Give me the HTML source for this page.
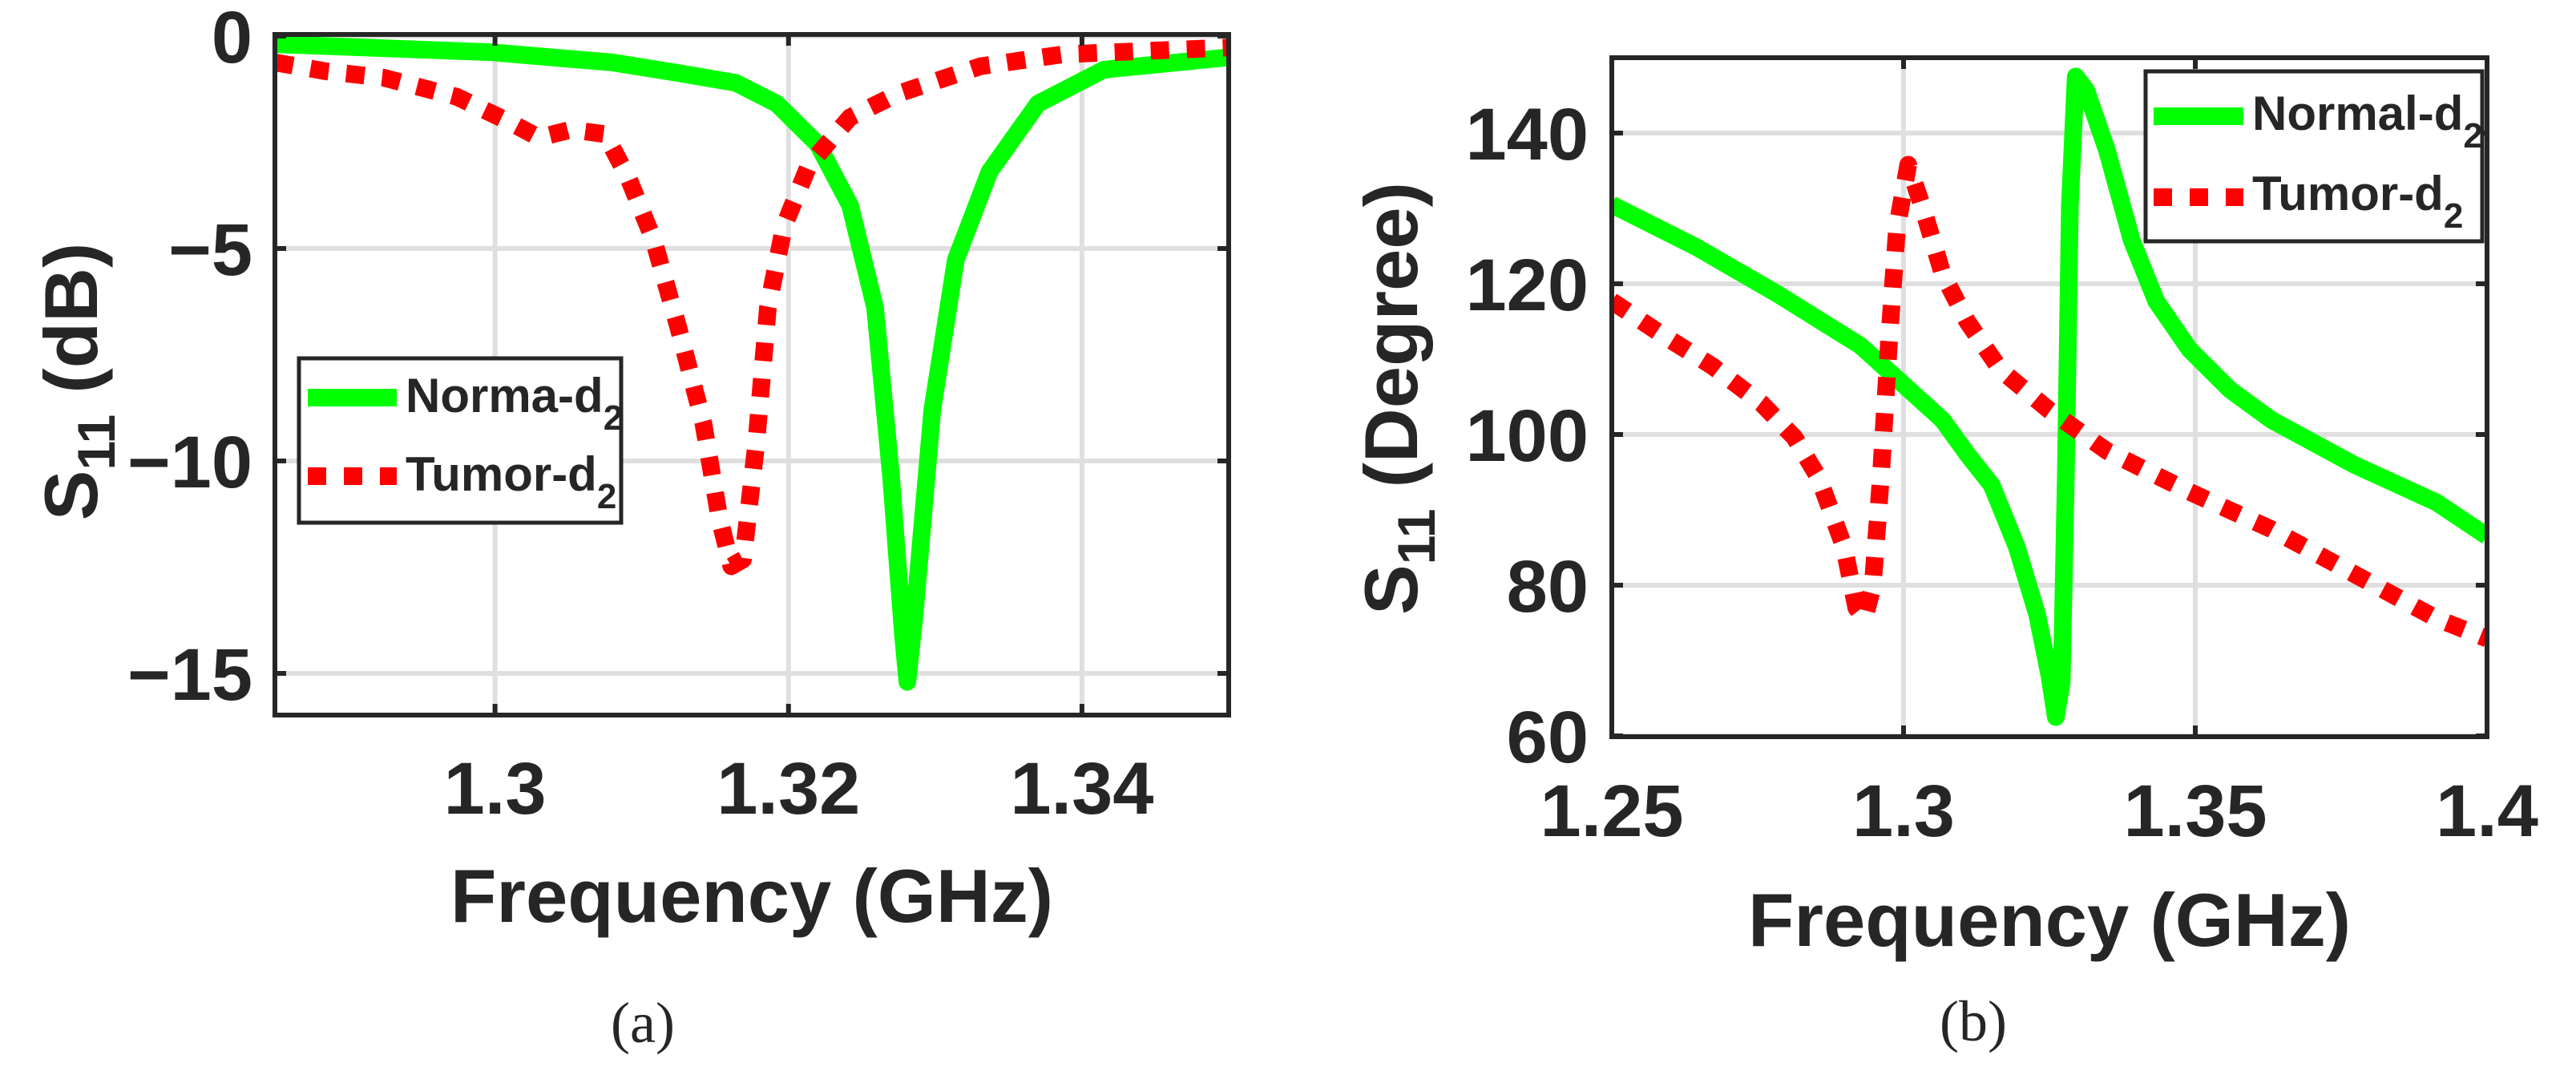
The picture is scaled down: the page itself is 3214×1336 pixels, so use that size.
<!DOCTYPE html>
<html><head><meta charset="utf-8">
<style>
html,body{margin:0;padding:0;background:#fff;}
svg{display:block;}
text{font-family:"Liberation Sans",Arial,sans-serif;font-weight:bold;fill:#262626;}
.cap{font-family:"Liberation Serif",serif;font-weight:normal;}
</style></head>
<body>
<svg id="fig" width="3214" height="1336" viewBox="0 0 3214 1336" xmlns="http://www.w3.org/2000/svg">
<defs>
<clipPath id="clipA"><rect x="343" y="43" width="1190" height="849"/></clipPath>
<clipPath id="clipB"><rect x="2011" y="72" width="1092" height="847"/></clipPath>
</defs>
<g id="gridA"></g>
<g id="gridB"></g>
<g id="linesA" clip-path="url(#clipA)"></g>
<g id="linesB" clip-path="url(#clipB)"></g>
<g id="framesA"></g>
<g id="framesB"></g>
<g id="labels">
<text x="938" y="1150" font-size="94" text-anchor="middle">Frequency (GHz)</text>
<text transform="translate(121,476) rotate(-90)" font-size="94" text-anchor="middle">S<tspan font-size="66" dy="22">11</tspan><tspan dy="-22"> (dB)</tspan></text>
<text x="2557" y="1180" font-size="94" text-anchor="middle">Frequency (GHz)</text>
<text transform="translate(1768,497) rotate(-90)" font-size="94" text-anchor="middle">S<tspan font-size="66" dy="22">11</tspan><tspan dy="-22"> (Degree)</tspan></text>
<text class="cap" x="802" y="1300" font-size="72" text-anchor="middle">(a)</text>
<text class="cap" x="2462" y="1298" font-size="72" text-anchor="middle">(b)</text>
</g>
<g>
<rect x="373" y="447" width="402" height="205" fill="#fff" stroke="#262626" stroke-width="5"/>
<line x1="384" y1="496" x2="495" y2="496" stroke="#00ff00" stroke-width="22"/>
<text x="506" y="514" font-size="60" fill="#000">Norma-d<tspan font-size="44" dy="22">2</tspan></text>
<line x1="384" y1="594" x2="495" y2="594" stroke="#ff0000" stroke-width="22" stroke-dasharray="23 22"/>
<text x="506" y="612" font-size="60" fill="#000">Tumor-d<tspan font-size="44" dy="22">2</tspan></text>
</g>
<g>
<rect x="2677" y="89" width="420" height="212" fill="#fff" stroke="#262626" stroke-width="5"/>
<line x1="2687" y1="145" x2="2799" y2="145" stroke="#00ff00" stroke-width="22"/>
<text x="2810" y="162" font-size="60" fill="#000">Normal-d<tspan font-size="44" dy="22">2</tspan></text>
<line x1="2687" y1="246" x2="2799" y2="246" stroke="#ff0000" stroke-width="22" stroke-dasharray="23 22"/>
<text x="2810" y="262" font-size="60" fill="#000">Tumor-d<tspan font-size="44" dy="22">2</tspan></text>
</g>
</svg>
<script>
// ---- Chart A data ----
const aNormalF = [1.285,1.2997,1.308,1.3125,1.3164,1.3192,1.3220,1.3242,1.3259,1.3270,1.3278,1.3281,1.3286,1.3298,1.3314,1.3337,1.3370,1.3415,1.35];
const aNormalV = [-0.19,-0.38,-0.62,-0.87,-1.1,-1.59,-2.55,-3.99,-6.39,-10.4,-14.09,-15.2,-13.6,-8.8,-5.27,-3.19,-1.59,-0.79,-0.5];
const aTumorF = [1.285,1.2885,1.2924,1.2974,1.3008,1.3030,1.3052,1.3075,1.3091,1.3108,1.3125,1.3142,1.3153,1.3161,1.3169,1.3178,1.3186,1.3197,1.3214,1.3242,1.3275,1.3331,1.3387,1.35];
const aTumorV = [-0.62,-0.83,-0.98,-1.43,-1.99,-2.39,-2.2,-2.31,-3.35,-4.79,-6.87,-9.12,-11.36,-12.48,-12.32,-9.6,-6.39,-4.47,-3.03,-1.91,-1.35,-0.71,-0.43,-0.27];
const aXTicks = [1.3,1.32,1.34];
const aXTickLabels = ["1.3","1.32","1.34"];
const aYTicks = [0,-5,-10,-15];
const aYTickLabels = ["0","\u22125","\u221210","\u221215"];
// ---- Chart B data ----
const bNormalF = [1.25,1.2644,1.2785,1.2926,1.3003,1.3067,1.3109,1.3151,1.3194,1.3229,1.3250,1.3261,1.3271,1.3278,1.3285,1.3295,1.3313,1.3349,1.3391,1.3433,1.3490,1.3560,1.3631,1.3772,1.3913,1.4];
const bNormalV = [130.5,124.9,118.6,111.8,106.4,101.9,97.4,93.3,85.1,76.1,68.0,62.5,67.05,94.2,130.3,147.5,145.7,137.6,125.8,117.7,111.3,105.9,101.9,96.0,91.0,86.5];
const bTumorF = [1.25,1.2587,1.2672,1.2757,1.2813,1.2855,1.2898,1.2919,1.2933,1.2947,1.2961,1.2975,1.2989,1.3008,1.3032,1.3067,1.3109,1.3166,1.3250,1.3349,1.3490,1.3631,1.3772,1.3913,1.4];
const bTumorV = [117.7,113.2,109.1,104.1,99.6,94.2,85.1,77.0,75.6,79.7,94.2,112.2,127.6,135.8,130.3,121.3,115.0,108.6,103.2,97.8,92.4,87.4,81.5,75.6,72.9];
const bXTicks = [1.25,1.3,1.35,1.4];
const bXTickLabels = ["1.25","1.3","1.35","1.4"];
const bYTicks = [60,80,100,120,140];
const bYTickLabels = ["60","80","100","120","140"];

const NS = "http://www.w3.org/2000/svg";
function mk(tag, attrs, parent){const e=document.createElementNS(NS,tag);for(const k in attrs)e.setAttribute(k,attrs[k]);parent.appendChild(e);return e;}
function lin(d0,d1,r0,r1){return v=>r0+(v-d0)/(d1-d0)*(r1-r0);}

function drawChart(cfg){
  const {L,T,R,B,xs,ys,grid,lines,frame,xT,xTL,yT,yTL,series,pfx}=cfg;
  xT.forEach((t,i)=>{
    const x=xs(t);
    const g=mk('line',{x1:x,y1:T,x2:x,y2:B,stroke:'#dfdfdf','stroke-width':6},grid);
    
    
    const tk=mk('line',{x1:x,y1:B,x2:x,y2:B-14,stroke:'#262626','stroke-width':6},frame);
    
    
    const tk2=mk('line',{x1:x,y1:T,x2:x,y2:T+14,stroke:'#262626','stroke-width':6},frame);
    
    
    const lb=mk('text',{x:x,y:cfg.xLabY,'font-size':92,'text-anchor':'middle'},frame);
    lb.textContent=xTL[i];
    
    
  });
  yT.forEach((t,i)=>{
    const y=ys(t);
    const g=mk('line',{x1:L,y1:y,x2:R,y2:y,stroke:'#dfdfdf','stroke-width':6},grid);
    
    
    const tk=mk('line',{x1:L,y1:y,x2:L+14,y2:y,stroke:'#262626','stroke-width':6},frame);
    
    
    const tk2=mk('line',{x1:R,y1:y,x2:R-14,y2:y,stroke:'#262626','stroke-width':6},frame);
    
    
    const lb=mk('text',{x:cfg.yLabX,y:y+33,'font-size':92,'text-anchor':'end'},frame);
    lb.textContent=yTL[i];
    
    
  });
  series.forEach(s=>{
    const d=s.f.map((f,i)=>(i?'L':'M')+xs(f).toFixed(1)+' '+ys(s.v[i]).toFixed(1)).join(' ');
    const p=mk('path',{d:d,fill:'none',stroke:s.color,'stroke-width':22,'stroke-linejoin':'round'},lines);
    if(s.dash) p.setAttribute('stroke-dasharray',s.dash);
    
    
  });
  const fr=mk('rect',{x:L,y:T,width:R-L,height:B-T,fill:'none',stroke:'#262626','stroke-width':6},frame);
  
  
}

drawChart({L:343,T:43,R:1533,B:892,xs:lin(1.285,1.35,343,1533),ys:lin(0,-16,45,893),
  grid:document.getElementById('gridA'),lines:document.getElementById('linesA'),frame:document.getElementById('framesA'),
  xT:aXTicks,xTL:aXTickLabels,yT:aYTicks,yTL:aYTickLabels,xLabY:1015,yLabX:315,pfx:'a',
  series:[{f:aNormalF,v:aNormalV,color:'#00ff00',name:'normal-d2-line-a'},
          {f:aTumorF,v:aTumorV,color:'#ff0000',dash:'23 22',name:'tumor-d2-line-a'}]});

drawChart({L:2011,T:72,R:3103,B:919,xs:lin(1.25,1.4,2011,3103),ys:lin(60,150,918,72),
  grid:document.getElementById('gridB'),lines:document.getElementById('linesB'),frame:document.getElementById('framesB'),
  xT:bXTicks,xTL:bXTickLabels,yT:bYTicks,yTL:bYTickLabels,xLabY:1043,yLabX:1982,pfx:'b',
  series:[{f:bNormalF,v:bNormalV,color:'#00ff00',name:'normal-d2-line-b'},
          {f:bTumorF,v:bTumorV,color:'#ff0000',dash:'23 22',name:'tumor-d2-line-b'}]});
</script>
</body></html>
